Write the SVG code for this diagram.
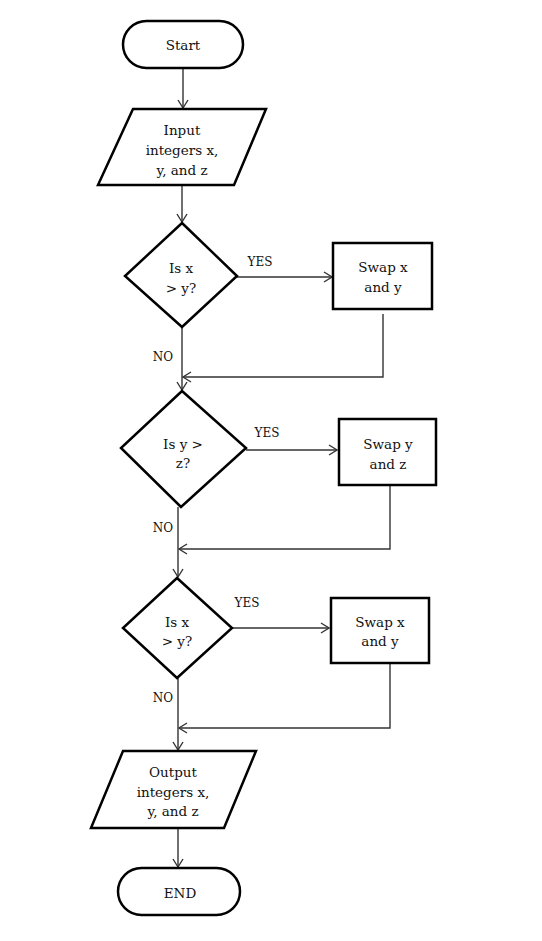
<svg xmlns="http://www.w3.org/2000/svg" width="542" height="941" viewBox="0 0 542 941">
<style>
.s{fill:#fff;stroke:#000;stroke-width:2.5}
.c{fill:none;stroke:#333;stroke-width:1.4}
text{font-family:"DejaVu Serif","Liberation Serif",serif;font-size:13.5px;fill:#111;text-anchor:middle;dominant-baseline:central}
.l{font-size:12px}
</style>
<defs>
<marker id="a" markerWidth="12" markerHeight="12" refX="10" refY="6" orient="auto" markerUnits="userSpaceOnUse">
<path d="M2,1 L10,6 L2,11" fill="none" stroke="#333" stroke-width="1.4"/>
</marker>
</defs>
<rect width="542" height="941" fill="#fff"/>
<g id="connectors">
<line class="c" x1="183" y1="69" x2="183" y2="108" marker-end="url(#a)"/>
<line class="c" x1="182" y1="185" x2="182" y2="222" marker-end="url(#a)"/>
<line class="c" x1="237" y1="277" x2="332" y2="277" marker-end="url(#a)"/>
<polyline class="c" points="383,314 383,377 183,377" marker-end="url(#a)"/>
<line class="c" x1="182" y1="327" x2="182" y2="390" marker-end="url(#a)"/>
<line class="c" x1="246" y1="450" x2="337" y2="450" marker-end="url(#a)"/>
<polyline class="c" points="390,485 390,549 179,549" marker-end="url(#a)"/>
<line class="c" x1="178" y1="507" x2="178" y2="577" marker-end="url(#a)"/>
<line class="c" x1="232" y1="628" x2="329" y2="628" marker-end="url(#a)"/>
<polyline class="c" points="390,663 390,728 179,728" marker-end="url(#a)"/>
<line class="c" x1="178" y1="678" x2="178" y2="750" marker-end="url(#a)"/>
<line class="c" x1="178" y1="829" x2="178" y2="867" marker-end="url(#a)"/>
<text class="l" x="260" y="262">YES</text>
<text class="l" x="163" y="357">NO</text>
<text class="l" x="267" y="433">YES</text>
<text class="l" x="163" y="528">NO</text>
<text class="l" x="247" y="603">YES</text>
<text class="l" x="163" y="698">NO</text>
</g>
<g id="start">
<rect class="s" x="123" y="21" width="120" height="47" rx="23.5"/>
<text x="183" y="45">Start</text>
</g>
<g id="input">
<polygon class="s" points="133,109 266,109 234,185 98,185"/>
<text x="182" y="130">Input</text>
<text x="182" y="150">integers x,</text>
<text x="182" y="170">y, and z</text>
</g>
<g id="dec1">
<polygon class="s" points="182,223 237,276 182,327 125,276"/>
<text x="181" y="268">Is x</text>
<text x="181" y="288">&gt; y?</text>
</g>
<g id="swap1">
<rect class="s" x="333" y="243" width="99" height="66"/>
<text x="383" y="267">Swap x</text>
<text x="383" y="287">and y</text>
</g>
<g id="dec2">
<polygon class="s" points="182,391 246,448 181,507 121,448"/>
<text x="183" y="444">Is y &gt;</text>
<text x="183" y="463">z?</text>
</g>
<g id="swap2">
<rect class="s" x="339" y="419" width="97" height="66"/>
<text x="388" y="444">Swap y</text>
<text x="388" y="464">and z</text>
</g>
<g id="dec3">
<polygon class="s" points="177,578 232,628 177,678 123,628"/>
<text x="177" y="622">Is x</text>
<text x="177" y="641">&gt; y?</text>
</g>
<g id="swap3">
<rect class="s" x="331" y="598" width="98" height="65"/>
<text x="380" y="622">Swap x</text>
<text x="380" y="641">and y</text>
</g>
<g id="output">
<polygon class="s" points="123,751 256,751 224,828 91,828"/>
<text x="173" y="772">Output</text>
<text x="173" y="792">integers x,</text>
<text x="173" y="811">y, and z</text>
</g>
<g id="end">
<rect class="s" x="118" y="868" width="122" height="47" rx="23.5"/>
<text x="180" y="893">END</text>
</g>
</svg>
